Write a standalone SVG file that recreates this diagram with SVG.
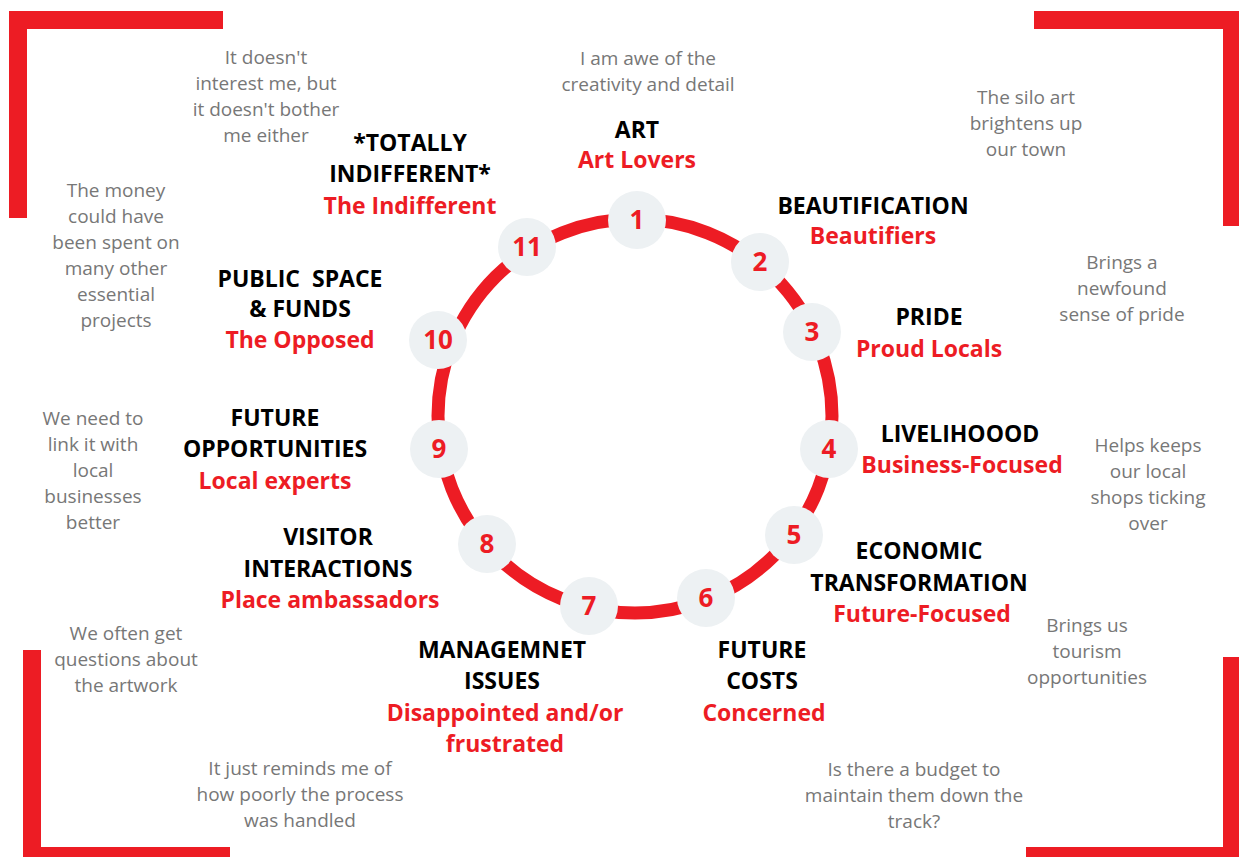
<svg xmlns="http://www.w3.org/2000/svg" width="1239" height="857" viewBox="0 0 1239 857">
<style>
.frame{fill:none;stroke:#ED1C24;stroke-width:18;stroke-linejoin:miter;stroke-linecap:butt}
.ring{fill:none;stroke:#ED1C24;stroke-width:13}
.node{fill:#EDF1F3}
.num{font-family:"Open Sans","Noto Sans",sans-serif;font-weight:700;font-size:26px;fill:#ED1C24;text-anchor:middle}
.lbl{font-family:"Open Sans","Noto Sans",sans-serif;font-weight:700;font-size:23px;fill:#000;text-anchor:middle}
.grp{font-family:"Open Sans","Noto Sans",sans-serif;font-weight:700;font-size:23px;fill:#ED1C24;text-anchor:middle}
.q{font-family:"Open Sans","Noto Sans",sans-serif;font-size:19px;fill:#777;text-anchor:middle}
</style>
<g id="frame">
<path class="frame" d="M18,218 V20 H223"/>
<path class="frame" d="M1034,20 H1232 V226"/>
<path class="frame" d="M32,650 V856 H230"/>
<path class="frame" d="M1026,856 H1232 V657"/>
</g>
<g id="connectors">
<circle class="ring" cx="635" cy="416" r="197"/>
</g>
<g id="n1"><circle class="node" cx="637" cy="220" r="29"/><text class="num" x="637" y="229">1</text>
<text class="lbl" x="637" y="138">ART</text><text class="grp" x="637" y="168">Art Lovers</text>
<text class="q" x="648" y="65">I am awe of the</text><text class="q" x="648" y="91">creativity and detail</text></g>
<g id="n2"><circle class="node" cx="760" cy="262" r="29"/><text class="num" x="760" y="271">2</text>
<text class="lbl" x="873" y="214">BEAUTIFICATION</text><text class="grp" x="873" y="244">Beautifiers</text>
<text class="q" x="1026" y="104">The silo art</text><text class="q" x="1026" y="130">brightens up</text><text class="q" x="1026" y="156">our town</text></g>
<g id="n3"><circle class="node" cx="812" cy="332" r="29"/><text class="num" x="812" y="341">3</text>
<text class="lbl" x="929" y="325">PRIDE</text><text class="grp" x="929" y="357">Proud Locals</text>
<text class="q" x="1122" y="269">Brings a</text><text class="q" x="1122" y="295">newfound</text><text class="q" x="1122" y="321">sense of pride</text></g>
<g id="n4"><circle class="node" cx="829" cy="449" r="29"/><text class="num" x="829" y="458">4</text>
<text class="lbl" x="960" y="442">LIVELIHOOOD</text><text class="grp" x="962" y="473">Business-Focused</text>
<text class="q" x="1148" y="452">Helps keeps</text><text class="q" x="1148" y="478">our local</text><text class="q" x="1148" y="504">shops ticking</text><text class="q" x="1148" y="530">over</text></g>
<g id="n5"><circle class="node" cx="794" cy="535" r="29"/><text class="num" x="794" y="544">5</text>
<text class="lbl" x="919" y="559">ECONOMIC</text><text class="lbl" x="919" y="591">TRANSFORMATION</text><text class="grp" x="922" y="622">Future-Focused</text>
<text class="q" x="1087" y="632">Brings us</text><text class="q" x="1087" y="658">tourism</text><text class="q" x="1087" y="684">opportunities</text></g>
<g id="n6"><circle class="node" cx="706" cy="598" r="29"/><text class="num" x="706" y="607">6</text>
<text class="lbl" x="762" y="658">FUTURE</text><text class="lbl" x="762" y="689">COSTS</text><text class="grp" x="764" y="721">Concerned</text>
<text class="q" x="914" y="776">Is there a budget to</text><text class="q" x="914" y="802">maintain them down the</text><text class="q" x="914" y="828">track?</text></g>
<g id="n7"><circle class="node" cx="589" cy="606" r="29"/><text class="num" x="589" y="615">7</text>
<text class="lbl" x="502" y="658">MANAGEMNET</text><text class="lbl" x="502" y="689">ISSUES</text><text class="grp" x="505" y="721">Disappointed and/or</text><text class="grp" x="505" y="752">frustrated</text>
<text class="q" x="300" y="775">It just reminds me of</text><text class="q" x="300" y="801">how poorly the process</text><text class="q" x="300" y="827">was handled</text></g>
<g id="n8"><circle class="node" cx="487" cy="544" r="29"/><text class="num" x="487" y="553">8</text>
<text class="lbl" x="328" y="545">VISITOR</text><text class="lbl" x="328" y="577">INTERACTIONS</text><text class="grp" x="330" y="608">Place ambassadors</text>
<text class="q" x="126" y="640">We often get</text><text class="q" x="126" y="666">questions about</text><text class="q" x="126" y="692">the artwork</text></g>
<g id="n9"><circle class="node" cx="439" cy="449" r="29"/><text class="num" x="439" y="458">9</text>
<text class="lbl" x="275" y="426">FUTURE</text><text class="lbl" x="275" y="457">OPPORTUNITIES</text><text class="grp" x="275" y="489">Local experts</text>
<text class="q" x="93" y="425">We need to</text><text class="q" x="93" y="451">link it with</text><text class="q" x="93" y="477">local</text><text class="q" x="93" y="503">businesses</text><text class="q" x="93" y="529">better</text></g>
<g id="n10"><circle class="node" cx="438" cy="340" r="29"/><text class="num" x="438" y="349">10</text>
<text class="lbl" x="300" y="287" xml:space="preserve">PUBLIC  SPACE</text><text class="lbl" x="300" y="317">&amp; FUNDS</text><text class="grp" x="300" y="348">The Opposed</text>
<text class="q" x="116" y="197">The money</text><text class="q" x="116" y="223">could have</text><text class="q" x="116" y="249">been spent on</text><text class="q" x="116" y="275">many other</text><text class="q" x="116" y="301">essential</text><text class="q" x="116" y="327">projects</text></g>
<g id="n11"><circle class="node" cx="527" cy="247" r="29"/><text class="num" x="527" y="256">11</text>
<text class="lbl" x="410" y="151">*TOTALLY</text><text class="lbl" x="410" y="182">INDIFFERENT*</text><text class="grp" x="410" y="214">The Indifferent</text>
<text class="q" x="266" y="64">It doesn't</text><text class="q" x="266" y="90">interest me, but</text><text class="q" x="266" y="116">it doesn't bother</text><text class="q" x="266" y="142">me either</text></g>
</svg>
